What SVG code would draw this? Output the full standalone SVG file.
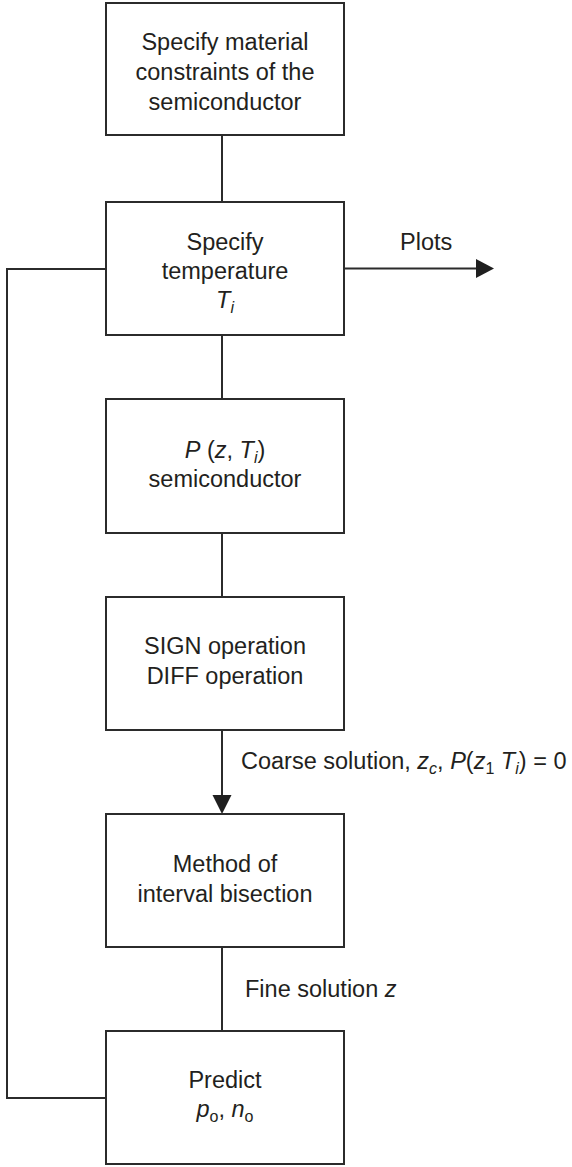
<svg xmlns="http://www.w3.org/2000/svg" width="572" height="1167" viewBox="0 0 572 1167">
  <style>
    .box { fill: #ffffff; stroke: #2b2b2b; stroke-width: 2; }
    .wire { fill: none; stroke: #2b2b2b; stroke-width: 2; }
    .head { fill: #1f1f1f; stroke: none; }
    text { font-family: "Liberation Sans", Arial, sans-serif; font-size: 23.5px; fill: #231f20; }
    .c { text-anchor: middle; }
    .it { font-style: italic; }
    .sub { font-size: 16px; }
  </style>
  <rect width="572" height="1167" fill="#ffffff"/>

  <!-- connectors -->
  <g id="connectors">
    <line class="wire" x1="222" y1="135" x2="222" y2="202"/>
    <line class="wire" x1="222" y1="335" x2="222" y2="399"/>
    <line class="wire" x1="222" y1="533" x2="222" y2="597"/>
    <line class="wire" x1="222" y1="730" x2="222" y2="796"/>
    <polygon class="head" points="212.5,795 231.5,795 222,814"/>
    <line class="wire" x1="222" y1="947" x2="222" y2="1031"/>
    <line class="wire" x1="344" y1="268.5" x2="477" y2="268.5"/>
    <polygon class="head" points="476,259 494,268.5 476,278"/>
    <polyline class="wire" points="106,1098 7,1098 7,269 106,269"/>
    <text x="400" y="250">Plots</text>
    <text x="241" y="769">Coarse solution, <tspan class="it">z</tspan><tspan class="sub it" dy="5">c</tspan><tspan dy="-5">, </tspan><tspan class="it">P</tspan>(<tspan class="it">z</tspan><tspan class="sub" dy="5">1</tspan><tspan class="it" dy="-5"> T</tspan><tspan class="sub it" dy="5">i</tspan><tspan dy="-5">) = 0</tspan></text>
    <text x="245" y="997">Fine solution <tspan class="it">z</tspan></text>
  </g>

  <g id="node-constraints">
    <rect class="box" x="106" y="3" width="238" height="132"/>
    <text class="c" x="225" y="50">Specify material</text>
    <text class="c" x="225" y="80">constraints of the</text>
    <text class="c" x="225" y="110">semiconductor</text>
  </g>

  <g id="node-temperature">
    <rect class="box" x="106" y="202" width="238" height="133"/>
    <text class="c" x="225" y="250">Specify</text>
    <text class="c" x="225" y="279">temperature</text>
    <text class="c" x="225" y="308"><tspan class="it">T</tspan><tspan class="sub it" dy="5">i</tspan></text>
  </g>

  <g id="node-polynomial">
    <rect class="box" x="106" y="399" width="238" height="134"/>
    <text class="c" x="225" y="458"><tspan class="it">P</tspan> (<tspan class="it">z</tspan>, <tspan class="it">T</tspan><tspan class="sub it" dy="5">i</tspan><tspan dy="-5">)</tspan></text>
    <text class="c" x="225" y="487">semiconductor</text>
  </g>

  <g id="node-sign-diff">
    <rect class="box" x="106" y="597" width="238" height="133"/>
    <text class="c" x="225" y="654">SIGN operation</text>
    <text class="c" x="225" y="684">DIFF operation</text>
  </g>

  <g id="node-bisection">
    <rect class="box" x="106" y="814" width="238" height="133"/>
    <text class="c" x="225" y="872">Method of</text>
    <text class="c" x="225" y="902">interval bisection</text>
  </g>

  <g id="node-predict">
    <rect class="box" x="106" y="1031" width="238" height="133"/>
    <text class="c" x="225" y="1088">Predict</text>
    <text class="c" x="225" y="1117"><tspan class="it">p</tspan><tspan class="sub" dy="5">o</tspan><tspan dy="-5">, </tspan><tspan class="it">n</tspan><tspan class="sub" dy="5">o</tspan></text>
  </g>
</svg>
